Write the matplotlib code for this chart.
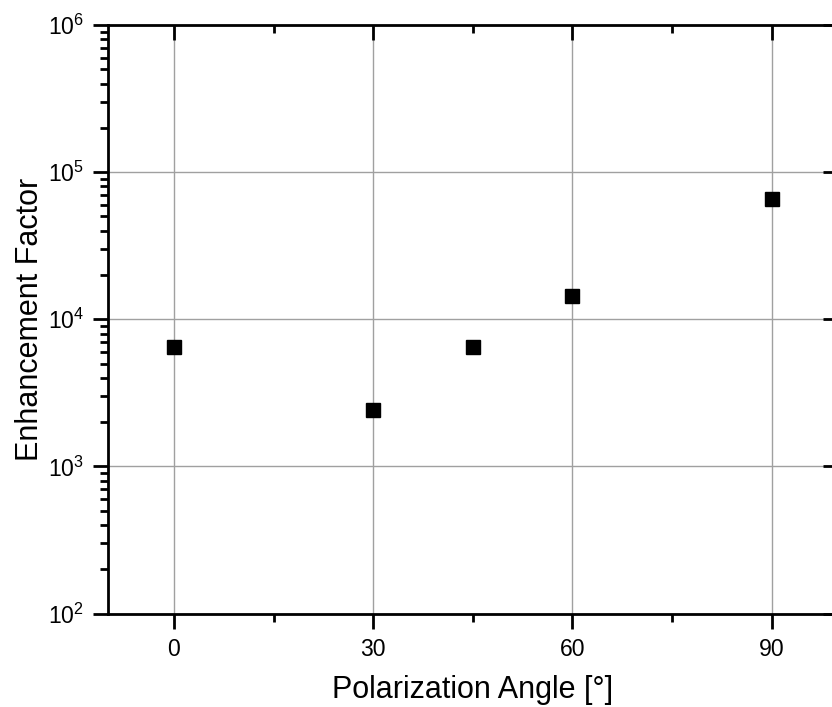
import numpy as np
import matplotlib
matplotlib.use('Agg')
import matplotlib.pyplot as plt
from matplotlib.ticker import MultipleLocator, LogLocator, NullFormatter

# data
angles = [0, 30, 45, 60, 90]
enhancement = [6500, 2400, 6500, 14500, 65500]

plt.rcParams['font.family'] = ['Liberation Sans', 'DejaVu Sans']
plt.rcParams['mathtext.fontset'] = 'custom'
plt.rcParams['mathtext.rm'] = 'Liberation Sans'
plt.rcParams['mathtext.it'] = 'Liberation Sans'
plt.rcParams['mathtext.default'] = 'regular'

fig = plt.figure(figsize=(8.32, 7.07), dpi=100)
W, H = 832, 707
# right spine sits just outside the picture, as in the reference
ax = fig.add_axes([107.5 / W, (H - 613.5) / H, 730.5 / W, 588.5 / H])

ax.plot(angles, enhancement, linestyle='none', marker='s', markersize=9.5,
        color='black', zorder=3, clip_on=False)

ax.set_yscale('log')
ax.set_xlim(-10, 100)
ax.set_ylim(1e2, 1e6)

ax.xaxis.set_major_locator(MultipleLocator(30))
ax.xaxis.set_minor_locator(MultipleLocator(15))
ax.yaxis.set_major_locator(LogLocator(base=10, numticks=10))
ax.yaxis.set_minor_locator(LogLocator(base=10, subs=np.arange(2, 10), numticks=20))
ax.yaxis.set_minor_formatter(NullFormatter())

ax.grid(True, which='major', color='#a0a0a0', linewidth=1.0)
ax.set_axisbelow(True)

for s in ax.spines.values():
    s.set_linewidth(2.0)

ax.tick_params(axis='both', which='major', labelsize=16.6, width=2.0, length=11)
ax.tick_params(axis='both', which='minor', width=2.0, length=6)
ax.tick_params(axis='x', which='both', direction='out', top=True, pad=7)
ax.tick_params(axis='y', which='major', direction='out', right=True, pad=6)
ax.tick_params(axis='y', which='minor', direction='out', right=False)
# top and right ticks point into the plot
for t in ax.xaxis.get_major_ticks() + ax.xaxis.get_minor_ticks():
    t.tick2line.set_marker(matplotlib.lines.TICKDOWN)
for t in ax.yaxis.get_major_ticks():
    t.tick2line.set_marker(matplotlib.lines.TICKLEFT)

ax.set_xlabel('Polarization Angle [°]', fontsize=22, labelpad=10)
ax.set_ylabel('Enhancement Factor', fontsize=22, labelpad=1.5)

fig.savefig('out.png', dpi=100)
